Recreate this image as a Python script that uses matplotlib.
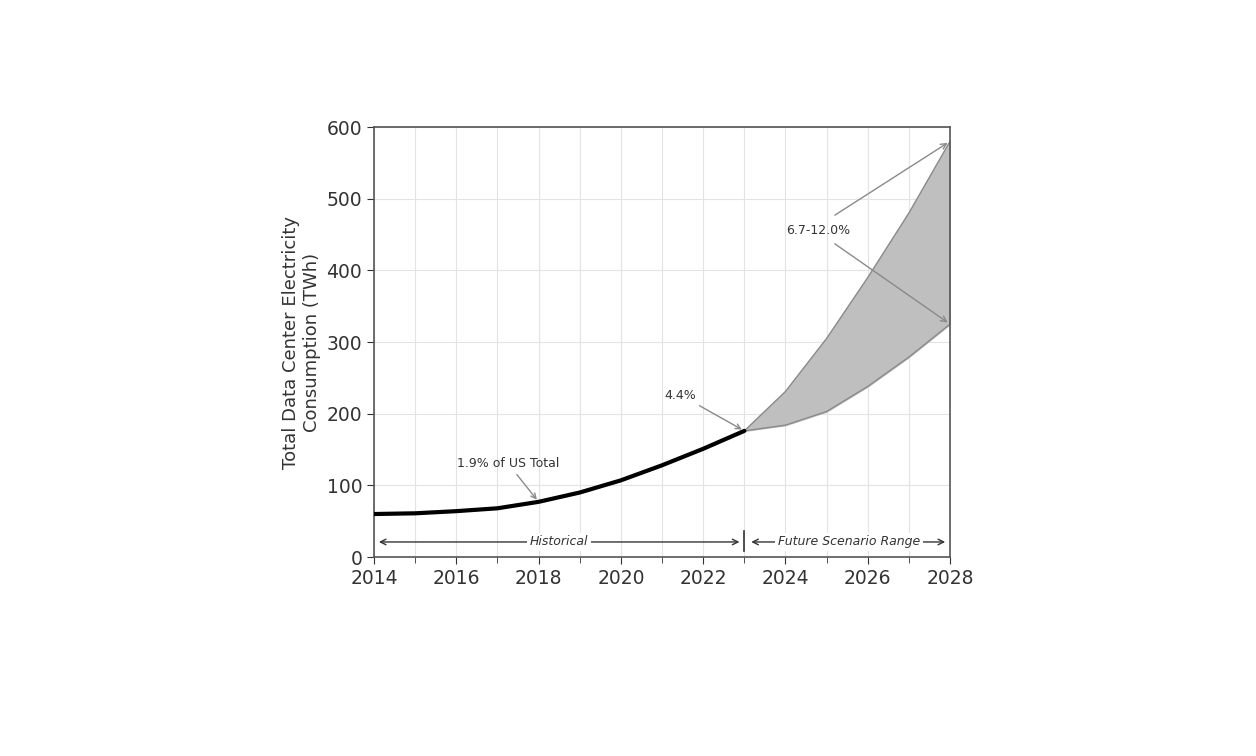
import matplotlib
matplotlib.use("Agg")
import matplotlib.pyplot as plt
from matplotlib.ticker import MultipleLocator

hist_years = [2014, 2015, 2016, 2017, 2018, 2019, 2020, 2021, 2022, 2023]
hist_vals = [60, 61, 64, 68, 77, 90, 107, 128, 151, 176]
fut_years = [2023, 2024, 2025, 2026, 2027, 2028]
fut_low = [176, 184, 203, 238, 279, 325]
fut_high = [176, 231, 305, 390, 480, 580]

fig = plt.figure(figsize=(12.56, 7.56), dpi=100)
ax = fig.add_axes([0.2978, 0.2632, 0.4586, 0.5688])

ax.fill_between(fut_years, fut_low, fut_high, color="#bfbfbf", zorder=2)
ax.plot(fut_years, fut_low, color="#8a8a8a", lw=1, zorder=2)
ax.plot(fut_years, fut_high, color="#8a8a8a", lw=1, zorder=2)
ax.plot(hist_years, hist_vals, color="black", lw=3, zorder=3, solid_capstyle="round")

ax.set_xlim(2014, 2028)
ax.set_ylim(0, 600)
ax.xaxis.set_major_locator(MultipleLocator(2))
ax.xaxis.set_minor_locator(MultipleLocator(1))
ax.yaxis.set_major_locator(MultipleLocator(100))
ax.grid(which="both", color="#e3e3e3", lw=0.8, zorder=0)
ax.set_axisbelow(True)
ax.tick_params(axis="both", which="major", labelsize=13.5, colors="#333333", length=5)
ax.tick_params(axis="x", which="minor", length=4, colors="#333333")
for s in ax.spines.values():
    s.set_color("#555555")
    s.set_linewidth(1.2)

ax.set_ylabel("Total Data Center Electricity\nConsumption (TWh)", fontsize=13, color="#333333")

arrow = dict(arrowstyle="->", color="#8a8a8a", lw=1)
ax.annotate("1.9% of US Total", xy=(hist_years[4], hist_vals[4]), xytext=(2017.25, 131),
            ha="center", va="center", fontsize=9, color="#333333", arrowprops=arrow)
ax.annotate("4.4%", xy=(hist_years[-1], hist_vals[-1]), xytext=(2021.45, 226),
            ha="center", va="center", fontsize=9, color="#333333", arrowprops=arrow)
ax.text(2024.8, 456, "6.7-12.0%", ha="center", va="center", fontsize=9, color="#333333")
ax.annotate("", xy=(fut_years[-1], fut_high[-1]), xytext=(2025.2, 477),
            arrowprops=dict(arrowstyle="->", color="#8a8a8a", lw=1, shrinkA=0))
ax.annotate("", xy=(fut_years[-1], fut_low[-1]), xytext=(2025.2, 437),
            arrowprops=dict(arrowstyle="->", color="#8a8a8a", lw=1, shrinkA=0))

ybar = 21
ax.annotate("", xy=(2014.05, ybar), xytext=(2022.95, ybar),
            arrowprops=dict(arrowstyle="<->", color="#333333", lw=1))
ax.text(2018.5, ybar, "Historical", ha="center", va="center", fontsize=9, style="italic",
        color="#333333", bbox=dict(facecolor="white", edgecolor="none", pad=2))
ax.annotate("", xy=(2023.1, ybar), xytext=(2027.95, ybar),
            arrowprops=dict(arrowstyle="<->", color="#333333", lw=1))
ax.text(2025.55, ybar, "Future Scenario Range", ha="center", va="center", fontsize=9,
        style="italic", color="#333333", bbox=dict(facecolor="white", edgecolor="none", pad=2))
ax.plot([2023, 2023], [8, 36], color="#333333", lw=1.2)

fig.savefig("out.png", dpi=100)
